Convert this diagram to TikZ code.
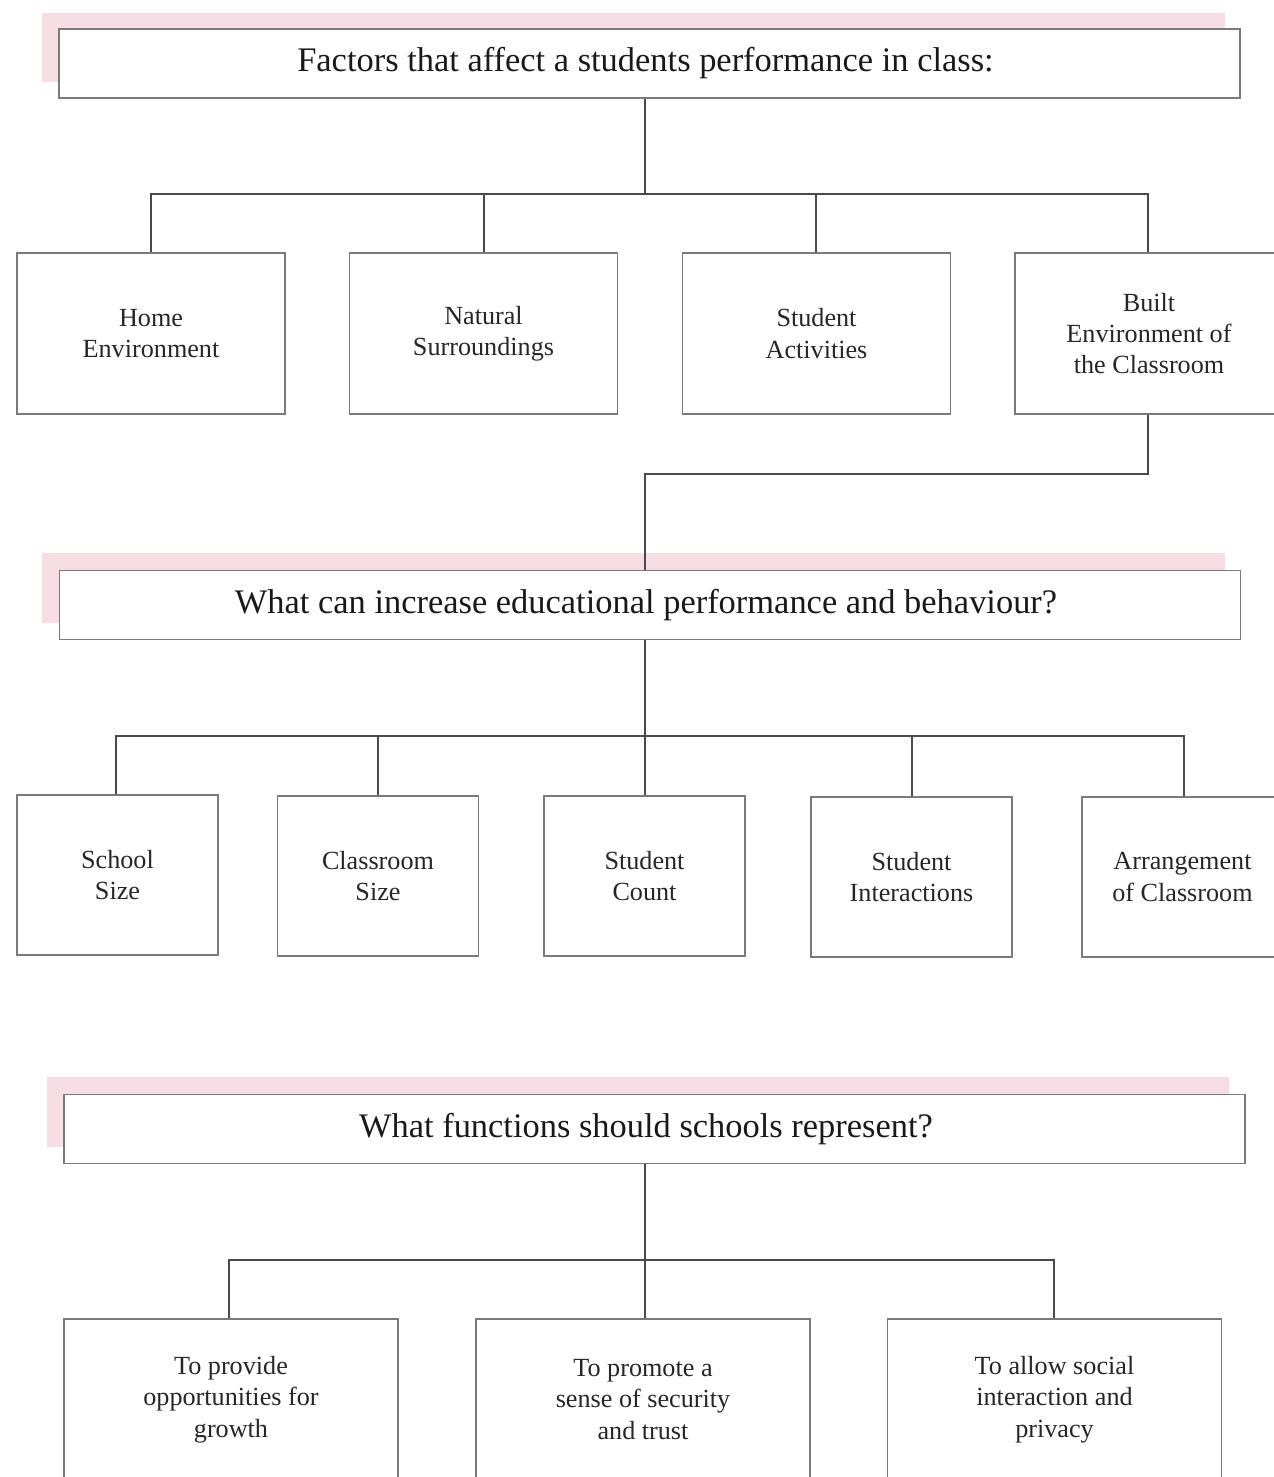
\documentclass[tikz,border=0pt]{standalone}
\usepackage{fontspec}
\setmainfont{Liberation Serif}
\usetikzlibrary{calc}
\definecolor{blush}{HTML}{F5DDE3}
\definecolor{edgegray}{HTML}{7A7A7A}
\definecolor{linegray}{HTML}{4A4A4A}
\tikzset{
  pinkband/.style={fill=blush, draw=none, minimum width=23.66cm, minimum height=1.4cm, inner sep=0pt},
  headbox/.style={draw=edgegray, fill=white, line width=0.8pt, minimum width=23.62cm, minimum height=1.38cm, inner sep=0pt, font=\fontsize{19.6}{23}\selectfont, text=black!90},
  factor/.style={draw=edgegray, line width=0.8pt, minimum width=5.36cm, minimum height=3.22cm, inner sep=0pt, align=center, font=\fontsize{14.9}{17.8}\selectfont, text=black!85},
  aspect/.style={factor, minimum width=4.02cm, minimum height=3.2cm},
  role/.style={factor, minimum width=6.68cm, minimum height=3.22cm},
  link/.style={draw=linegray, line width=0.8pt}
}

\begin{document}
\begin{tikzpicture}[x=0.02cm, y=-0.02cm]
    \useasboundingbox (0,0) rectangle (1274,1477);

    % headings with pink band behind
    \node[pinkband] (p1) at (633.5,47.5) {};
    \node[headbox] (t1) at (649.5,63.5) {\hspace*{-0.16cm}Factors that affect a students performance in class:};
    \node[pinkband] (p2) at (633.5,588) {};
    \node[headbox] (t2) at (650,605) {\hspace*{-0.16cm}What can increase educational performance and behaviour?};
    \node[pinkband] (p3) at (638,1112) {};
    \node[headbox] (t3) at (654.5,1129) {\hspace*{-0.34cm}What functions should schools represent?};

    % first row
    \node[factor] (f1) at (151,333.5) {Home\\Environment};
    \node[factor] (f2) at (483.5,333.5) {Natural\\Surroundings};
    \node[factor] (f3) at (816.5,333.5) {Student\\Activities};
    \node[factor] (f4) at (1149,333.5) {Built\\Environment of\\the Classroom};

    % second row
    \node[aspect] (a1) at (117.5,875) {School\\Size};
    \node[aspect] (a2) at (378,876) {Classroom\\Size};
    \node[aspect] (a3) at (644.5,876) {Student\\Count};
    \node[aspect] (a4) at (911.5,877) {Student\\Interactions};
    \node[aspect] (a5) at (1182.5,877) {Arrangement\\of Classroom};

    % third row
    \node[role] (r1) at (231,1399.5) {To provide\\opportunities for\\growth};
    \node[role] (r2) at (643,1399.5) {To promote a\\sense of security\\and trust};
    \node[role] (r3) at (1054.5,1399.5) {To allow social\\interaction and\\privacy};

    % joints
    \coordinate (j1) at (645,194);
    \coordinate (j2) at (645,736);
    \coordinate (j3) at (645,1260);

    \draw[link] (j1) -- (j1 |- t1.south);
    \foreach \n/\x in {f1/151,f2/484,f3/816,f4/1148}
        \draw[link] (\x,0 |- \n.north) |- (j1);

    \draw[link] (1148,0 |- f4.south) -- (1148,474) -| (j2 |- t2.north);

    \draw[link] (j2) -- (j2 |- t2.south);
    \foreach \n/\x in {a1/116,a2/378,a3/645,a4/912,a5/1184}
        \draw[link] (\x,0 |- \n.north) |- (j2);

    \draw[link] (j3) -- (j3 |- t3.south);
    \foreach \n/\x in {r1/229,r2/645,r3/1054}
        \draw[link] (\x,0 |- \n.north) |- (j3);
\end{tikzpicture}
\end{document}
